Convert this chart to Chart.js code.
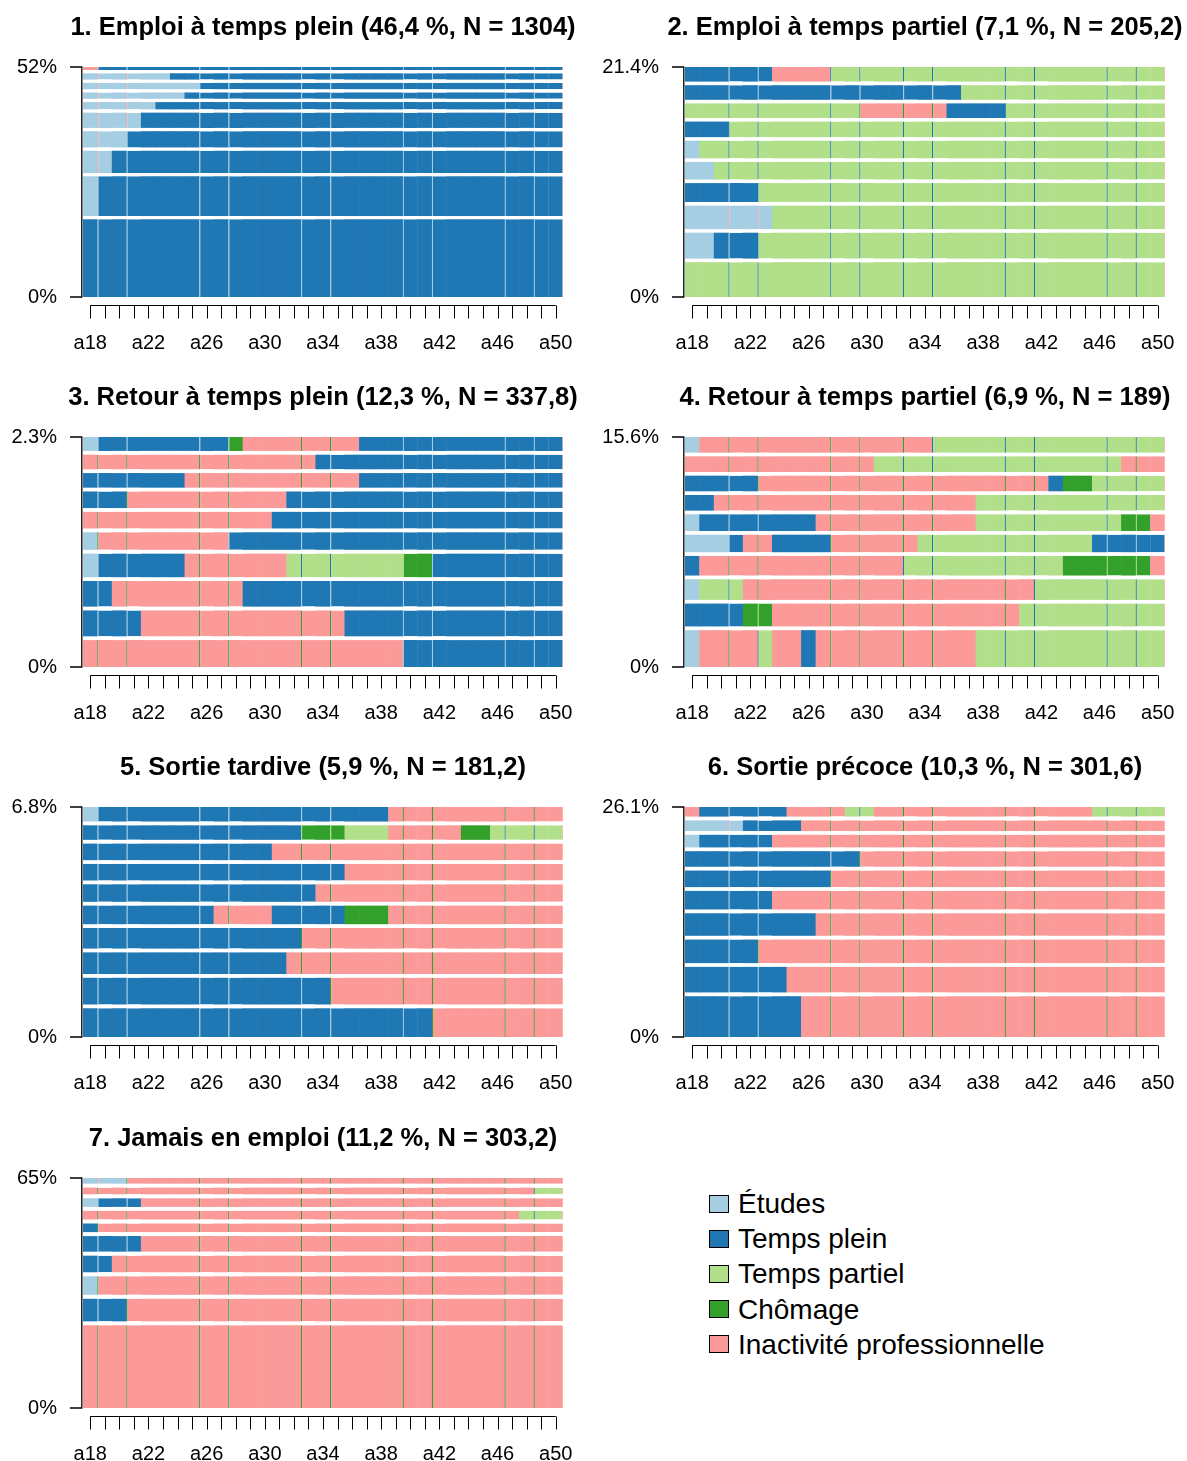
<!DOCTYPE html>
<html lang="fr">
<head>
<meta charset="UTF-8" />
<title>Trajectoires professionnelles - classes</title>
<script src="https://cdn.jsdelivr.net/npm/chart.js"></script>
<style>
  html, body { margin: 0; padding: 0; background: #fff; }
  body { position: relative; width: 1187px; height: 1461px; overflow: hidden; font-family: 'Liberation Sans', Arial, sans-serif; }
  canvas { position: absolute; }
  #legend { position: absolute; left: 709px; top: 1186px; }
  .item { display: flex; align-items: center; height: 35.2px; line-height: 35.2px; font-size: 28px; color: #000; white-space: nowrap; }
  .box { width: 18px; height: 16px; border: 1px solid #000; margin-right: 9px; }
</style>
</head>
<body>
<canvas id="c1" width="686" height="370" style="left:-20px;top:0"></canvas>
<canvas id="c2" width="686" height="370" style="left:582px;top:0"></canvas>
<canvas id="c3" width="686" height="370" style="left:-20px;top:370px"></canvas>
<canvas id="c4" width="686" height="370" style="left:582px;top:370px"></canvas>
<canvas id="c5" width="686" height="370" style="left:-20px;top:740px"></canvas>
<canvas id="c6" width="686" height="370" style="left:582px;top:740px"></canvas>
<canvas id="c7" width="686" height="370" style="left:-20px;top:1111px"></canvas>
<div id="legend"></div>

<script>
const ages = ['a18', 'a19', 'a20', 'a21', 'a22', 'a23', 'a24', 'a25', 'a26', 'a27', 'a28',
    'a29', 'a30', 'a31', 'a32', 'a33', 'a34', 'a35', 'a36', 'a37', 'a38', 'a39', 'a40',
    'a41', 'a42', 'a43', 'a44', 'a45', 'a46', 'a47', 'a48', 'a49', 'a50'];
const xTickLabels = ['a18', 'a22', 'a26', 'a30', 'a34', 'a38', 'a42', 'a46', 'a50'];

const stateCodes = ['E', 'P', 'T', 'C', 'I'];
const stateNames = ['Études', 'Temps plein', 'Temps partiel', 'Chômage', 'Inactivité professionnelle'];
const stateColors = ['#A6CEE3', '#1F78B4', '#B2DF8A', '#33A02C', '#FB9A99'];

const titles = [
    '1. Emploi à temps plein (46,4 %, N = 1304)',
    '2. Emploi à temps partiel (7,1 %, N = 205,2)',
    '3. Retour à temps plein (12,3 %, N = 337,8)',
    '4. Retour à temps partiel (6,9 %, N = 189)',
    '5. Sortie tardive (5,9 %, N = 181,2)',
    '6. Sortie précoce (10,3 %, N = 301,6)',
    '7. Jamais en emploi (11,2 %, N = 303,2)'
];
const yMax = [52, 21.4, 2.3, 15.6, 6.8, 26.1, 65];

// sequences listed top row first, "E1 P32" = 1 year Études then 32 years Temps plein
// weights in % (bar heights)
const seq1 = ['I1 P32', 'E6 P27', 'E8 P25', 'E7 P26', 'E5 P28', 'E4 P29', 'E3 P30', 'E2 P31', 'E1 P32', 'P33'];
const w1 = [0.68, 1.43, 1.43, 1.43, 1.65, 3.45, 3.68, 5.03, 9.00, 17.56];

const seq2 = ['P6 I4 T23', 'P19 T14', 'T12 I6 P4 T11', 'P3 T30', 'E1 T32', 'E2 T31', 'P5 T28', 'E6 T27', 'E2 P3 T28', 'T33'];
const w2 = [1.36, 1.36, 1.36, 1.45, 1.64, 1.64, 1.76, 2.19, 2.41, 3.24];

const seq3 = ['E1 P9 C1 I8 P14', 'I16 P17', 'P7 I12 P14', 'P3 I11 P19', 'I13 P20', 'E1 I9 P23',
    'E1 P6 I7 T8 C2 P9', 'P2 I9 P22', 'P4 I14 P15', 'I22 P11'];
const w3 = [0.139, 0.146, 0.146, 0.166, 0.166, 0.176, 0.236, 0.256, 0.259, 0.269];

const seq4 = ['E1 I16 T16', 'I13 T17 I3', 'P5 I20 P1 C2 T5', 'P2 I18 T13', 'E1 P8 I11 T10 C2 I1',
    'E3 P1 I2 P4 I6 T12 P5', 'P1 I14 T11 C6 I1', 'E1 T3 I20 T9', 'P4 C2 I17 T10', 'E1 I4 T1 I2 P1 I11 T13'];
const w4 = [1.06, 1.06, 1.06, 1.06, 1.13, 1.19, 1.33, 1.40, 1.55, 2.50];

const seq5 = ['E1 P20 I12', 'P15 C3 T3 I5 C2 T5', 'P13 I20', 'P18 I15', 'P16 I17', 'P9 I4 P5 C3 I12',
    'P15 I18', 'P14 I19', 'P17 I16', 'P24 I9'];
const w5 = [0.43, 0.43, 0.49, 0.49, 0.52, 0.55, 0.61, 0.64, 0.79, 0.85];

const seq6 = ['I1 P6 I4 T2 I15 T5', 'E4 P4 I25', 'E1 P5 I27', 'P12 I21', 'P10 I23', 'P6 I27',
    'P9 I24', 'P5 I28', 'P7 I26', 'P8 I25'];
const w6 = [1.09, 1.21, 1.43, 1.77, 1.88, 2.11, 2.56, 2.67, 2.90, 4.63];

const seq7 = ['E3 I30', 'I31 T2', 'E1 P3 I29', 'I30 T3', 'P1 I32', 'P4 I29', 'P2 I31', 'E1 I32', 'P3 I30', 'I33'];
const w7 = [1.60, 1.88, 2.44, 2.44, 2.44, 4.41, 4.69, 5.25, 6.38, 23.36];

const allSeqs = [seq1, seq2, seq3, seq4, seq5, seq6, seq7];
const allWeights = [w1, w2, w3, w4, w5, w6, w7];

// thin render seams seen in the original output (column index of left edge)
const seamsLeft = [1, 3, 8, 10, 15, 17, 22, 24, 29, 31];
const seamsRight = [3, 5, 10, 12, 15, 17, 22, 24, 29, 31];

Chart.defaults.font.family = "'Liberation Sans', Arial, sans-serif";
Chart.defaults.color = '#000';

function expand(code) {
    const out = [];
    code.split(' ').forEach(sp => {
        const n = +sp.slice(1);
        for (let k = 0; k < n; k++) out.push(sp[0]);
    });
    return out;
}
const colorOf = s => stateColors[stateCodes.indexOf(s)];
const seamOf = s => stateColors[(stateCodes.indexOf(s) + 4) % 5];

function makeDatasets(seqs, weights, top, seams) {
    const gap = (top - weights.reduce((a, b) => a + b, 0)) / (weights.length - 1);
    const last = ages.length - 1;
    const sets = [];
    const rows = seqs.map((s, i) => [expand(s), weights[i]]).reverse();
    rows.forEach(([states, w], r) => {
        if (r > 0) {
            sets.push({ data: ages.map(() => gap), backgroundColor: 'rgba(0,0,0,0)', borderWidth: 0 });
        }
        sets.push({
            data: ages.map(() => w),
            backgroundColor: states.map(colorOf),
            borderColor: ctx => ctx.dataIndex === last ? stateColors[4] : seamOf(states[ctx.dataIndex]),
            borderWidth: ctx => {
                if (seams.includes(ctx.dataIndex)) return { left: 1.2, right: 0, top: 0, bottom: 0 };
                if (ctx.dataIndex === last) return { left: 0, right: 1, top: 0, bottom: 0 };
                return 0;
            },
            borderSkipped: false
        });
    });
    return sets;
}

const axisPlugin = {
    id: 'rAxes',
    afterDraw(chart) {
        const { ctx, chartArea: a, scales: { x, y } } = chart;
        ctx.save();
        ctx.strokeStyle = '#000';
        ctx.lineWidth = 1.3;
        const yTop = y.getPixelForValue(y.max);
        const yBot = y.getPixelForValue(0);
        ctx.beginPath();
        ctx.moveTo(a.left - 13, yTop);
        ctx.lineTo(a.left - 1.2, yTop);
        ctx.lineTo(a.left - 1.2, yBot);
        ctx.lineTo(a.left - 13, yBot);
        ctx.stroke();

        const ly = a.bottom + 8.5;
        ctx.lineWidth = 1;
        ctx.beginPath();
        ctx.moveTo(x.getPixelForTick(0), ly);
        ctx.lineTo(x.getPixelForTick(x.ticks.length - 1), ly);
        x.ticks.forEach((t, i) => {
            const px = Math.round(x.getPixelForTick(i)) + 0.5;
            ctx.moveTo(px, ly);
            ctx.lineTo(px, ly + 13);
        });
        ctx.stroke();
        ctx.restore();
    }
};

allSeqs.forEach((seqs, p) => {
    const top = yMax[p];
    const seams = p % 2 === 0 ? seamsLeft : seamsRight;
    new Chart(document.getElementById('c' + (p + 1)), {
        type: 'bar',
        data: { labels: ages, datasets: makeDatasets(seqs, allWeights[p], top, seams) },
        options: {
            responsive: false,
            animation: false,
            events: [],
            // slight horizontal overlap so neighbouring cells leave no hairline
            datasets: { bar: { barPercentage: 1.04, categoryPercentage: 1, inflateAmount: 0 } },
            plugins: {
                legend: { display: false },
                tooltip: { enabled: false },
                title: {
                    display: true,
                    text: titles[p],
                    color: '#000',
                    font: { size: 25.5, weight: 'bold' },
                    padding: { top: 13, bottom: 23.4 }
                }
            },
            scales: {
                x: {
                    stacked: true,
                    grid: { display: false, drawTicks: false },
                    border: { display: false },
                    ticks: {
                        autoSkip: false, maxRotation: 0, minRotation: 0,
                        padding: 34, font: { size: 20 }, color: '#000',
                        callback: (v, i) => xTickLabels.includes(ages[i]) ? ages[i] : ''
                    },
                    afterFit: s => { s.height = 73; }
                },
                y: {
                    stacked: true,
                    min: 0,
                    max: top,
                    grid: { display: false, drawTicks: false },
                    border: { display: false },
                    ticks: { padding: 26, font: { size: 20 }, color: '#000', callback: v => v + '%' },
                    afterBuildTicks: s => { s.ticks = [{ value: 0 }, { value: top }]; },
                    afterFit: s => { s.width = 103; }
                },
                // empty right axis, keeps the plot centred under its title
                yr: {
                    position: 'right',
                    grid: { display: false, drawTicks: false },
                    border: { display: false },
                    ticks: { display: false },
                    afterFit: s => { s.width = 103; }
                }
            }
        },
        plugins: [axisPlugin]
    });
});

const legend = document.getElementById('legend');
stateNames.forEach((name, i) => {
    const row = document.createElement('div');
    row.className = 'item';
    row.innerHTML = `<span class="box" style="background:${stateColors[i]}"></span><span>${name}</span>`;
    legend.appendChild(row);
});
</script>
</body>
</html>
